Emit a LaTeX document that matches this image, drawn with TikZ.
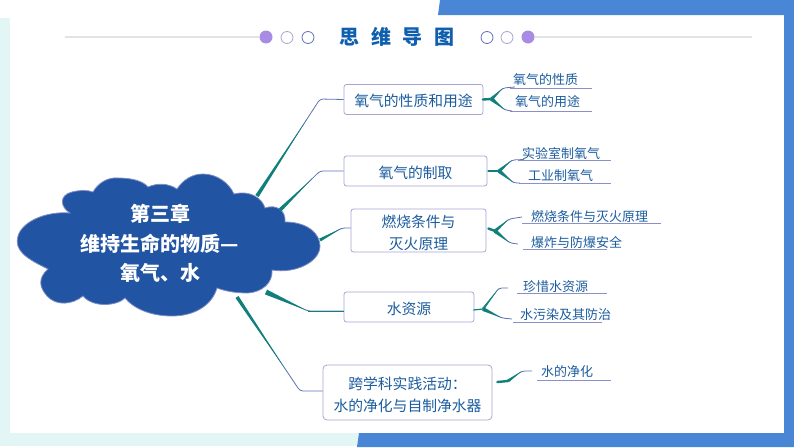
\documentclass[tikz,border=0pt]{standalone}
\usepackage{fontspec}
\setmainfont{Noto Sans CJK SC}
\usetikzlibrary{positioning}
\usetikzlibrary{calc}
\definecolor{cloudblue}{HTML}{2155A3}
\definecolor{frameblue}{HTML}{4A86D6}
\definecolor{framecyan}{HTML}{E2F6F5}
\definecolor{dotpurple}{HTML}{A88BE3}
\definecolor{inkblue}{HTML}{1B5C9E}
\definecolor{titleblue}{HTML}{0F5FAE}
\definecolor{rootteal}{HTML}{11807C}
\definecolor{twigslate}{HTML}{5F72B4}
\definecolor{boxedge}{HTML}{A9A5D2}
\newcommand{\taper}[3]{\fill[rootteal] ($(#1)!#3!90:(#2)$) -- ($(#1)!#3!-90:(#2)$) -- (#2) -- cycle;}
\tikzset{
    mainbox/.style={draw=boxedge, line width=0.8pt, rounded corners=2.5pt, fill=white, text=inkblue, align=center,
                    font=\fontsize{14.8}{22}\selectfont, inner sep=0pt, text height=16pt, text depth=2pt},
    twolines/.style={text height=40pt},
    leaf/.style={text=inkblue, font=\fontsize{13}{16}\selectfont, inner sep=0pt, yshift=-1pt},
    underline/.style={draw=boxedge!60!twigslate, line width=0.8pt},
    twig/.style={draw=twigslate, line width=0.8pt, rounded corners=3pt},
    stub/.style={draw=rootteal, line width=2.4pt, line cap=round},
    ring/.style={circle, fill=white, minimum size=12pt, inner sep=0pt, line width=0.8pt}
}
\begin{document}
\begin{tikzpicture}[x=1pt,y=-1pt]
    \useasboundingbox (0,0) rectangle (794,447);
    % frame
    \fill[framecyan] (0,18) rectangle (10,446);
    \fill[framecyan] (0,433) rectangle (794,446);
    \fill[frameblue] (438,15) -- (440,0) -- (794,0) -- (794,447) -- (357,447) -- (359,433) -- (784,433) -- (784,15) -- cycle;

    % header
    \coordinate (ruleL) at (65,37);
    \coordinate (ruleR) at (752,37);
    \node[circle, fill=dotpurple, minimum size=13pt, inner sep=0pt] (dotL) at (266,37) {};
    \node[circle, fill=dotpurple, minimum size=13pt, inner sep=0pt] (dotR) at (528,37) {};
    \node[ring, draw=boxedge] (ringL1) at (287,37.5) {};
    \node[ring, draw=twigslate] (ringL2) at (308,37.5) {};
    \node[ring, draw=twigslate] (ringR1) at (487,37.5) {};
    \node[ring, draw=boxedge] (ringR2) at (507,37.5) {};
    \draw[color=black!11, line width=1.3pt] (ruleL) -- (dotL);
    \draw[color=black!11, line width=1.3pt] (dotR) -- (ruleR);
    \node[text=titleblue, font=\fontsize{20}{24}\selectfont\bfseries] (title) at (397,37) {思\hspace{11.5pt}维\hspace{11.5pt}导\hspace{11.5pt}图};

    % cloud
    \draw[fill=cloudblue, draw=boxedge!70!cloudblue, line width=0.8pt]
        (48,269) .. controls (25,258) and (14,250) .. (18,236) .. controls (22,222) and (45,211) .. (70,213)
        .. controls (60,207) and (59,195) .. (72,192) .. controls (80,190) and (88,190) .. (93,192)
        .. controls (98,183) and (108,177) .. (118,178) .. controls (132,178) and (143,181) .. (148,187)
        .. controls (157,183) and (168,183) .. (177,189)
        .. controls (183,180) and (192,174) .. (203,174) .. controls (217,174) and (229,183) .. (234,194)
        .. controls (250,190) and (262,198) .. (265,208)
        .. controls (276,204) and (286,210) .. (285,222)
        .. controls (308,222) and (320,234) .. (320,246) .. controls (320,262) and (295,274) .. (272,270)
        .. controls (273,283) and (262,292) .. (248,293) .. controls (235,293) and (225,291) .. (217,288)
        .. controls (212,305) and (195,316) .. (172,316) .. controls (150,316) and (133,308) .. (125,298)
        .. controls (117,306) and (93,308) .. (83,296)
        .. controls (72,305) and (56,306) .. (47,296) .. controls (39,287) and (38,278) .. (48,269) -- cycle;
    \node[text=white, align=center, inner sep=0pt, font=\fontsize{20}{29.5}\selectfont\bfseries] (chapter) at (160,243.5) {第三章\\维持生命的物质—\\氧气、水};

    % boxes
    \node[mainbox, minimum width=139pt, minimum height=30pt] (boxprop) at (413.5,99.5) {氧气的性质和用途};
    \node[mainbox, minimum width=143pt, minimum height=30pt] (boxmake) at (415.5,171) {氧气的制取};
    \node[mainbox, twolines, minimum width=135pt, minimum height=43pt] (boxfire) at (418.5,230.5) {燃烧条件与\\灭火原理};
    \node[mainbox, minimum width=130pt, minimum height=30pt] (boxwater) at (409,307) {水资源};
    \node[mainbox, twolines, rounded corners=4pt, minimum width=169pt, minimum height=55pt] (boxclean) at (407.5,392.5) {跨学科实践活动：\\水的净化与自制净水器};

    % branches
    \coordinate (outprop) at (257,196);
    \coordinate (bendprop) at (320,99);
    \coordinate (outmake) at (280,210);
    \coordinate (bendmake) at (320,171);
    \coordinate (outfire) at (320,240);
    \coordinate (bendfire) at (342,228);
    \coordinate (outwater) at (266,292);
    \coordinate (bendwater) at (308,311);
    \coordinate (outclean) at (237,297);
    \coordinate (bendclean) at (300,391);
    \draw[twig] (outprop) -- (bendprop) -- (boxprop.west);
    \taper{outprop}{$(outprop)!.8!(bendprop)$}{1.9pt}
    \draw[twig] (outmake) -- (bendmake) -- (boxmake.west);
    \taper{outmake}{$(outmake)!.8!(bendmake)$}{1.9pt}
    \draw[twig] (outfire) -- (bendfire) -- (boxfire.west |- bendfire);
    \taper{outfire}{bendfire}{1.6pt}
    \draw[twig] (outwater) -- (bendwater) -- (boxwater.west |- bendwater);
    \taper{outwater}{bendwater}{2.6pt}
    \draw[draw=rootteal, line width=1pt] (bendwater) -- (boxwater.west |- bendwater);
    \draw[twig] (outclean) -- (bendclean) -- (boxclean.west |- bendclean);
    \taper{outclean}{$(outclean)!.8!(bendclean)$}{1.8pt}

    % leaves
    \node[leaf, anchor=west] (leafprop1) at (513,79) {氧气的性质};
    \node[leaf, anchor=west] (leafprop2) at (515,101) {氧气的用途};
    \node[leaf, anchor=west] (leafmake1) at (522,152) {实验室制氧气};
    \node[leaf, anchor=west] (leafmake2) at (528,175) {工业制氧气};
    \node[leaf, anchor=west] (leaffire1) at (531,216) {燃烧条件与灭火原理};
    \node[leaf, anchor=west] (leaffire2) at (531,242) {爆炸与防爆安全};
    \node[leaf, anchor=west] (leafwater1) at (523,286) {珍惜水资源};
    \node[leaf, anchor=west] (leafwater2) at (520,314) {水污染及其防治};
    \node[leaf, anchor=west] (leafclean) at (541,371) {水的净化};

    \draw[underline] (510,88) -- (592,88);
    \draw[underline] (510,111) -- (592,111);
    \draw[underline] (518,160) -- (611,160);
    \draw[underline] (519,183) -- (611,183);
    \draw[underline] (522,223) -- (661,223);
    \draw[underline] (523,249) -- (607,249);
    \draw[underline] (517,293) -- (607,293);
    \draw[underline] (513,322) -- (602,322);
    \draw[underline] (537,380) -- (611,380);

    % forks
    \coordinate (forkprop) at (491.5,99);
    \coordinate (forkmake) at (499,171);
    \coordinate (forkfire) at (495,231);
    \coordinate (forkwater) at (483,309);
    \coordinate (forkclean) at (508,381);
    \draw[stub] (boxprop.east) ++(-0.5,0) -- (forkprop);
    \draw[twig] (forkprop) -- (503,88) -- (515,87);
    \draw[twig] (forkprop) -- (505,110) -- (512,111);
    \taper{forkprop}{503,88}{1.7pt}
    \taper{forkprop}{505,110}{2pt}
    \draw[stub] (boxmake.east) ++(1,0) -- (forkmake);
    \draw[twig] (forkmake) -- (512,160) -- (524,159.5);
    \draw[twig] (forkmake) -- (514,183) -- (520,183);
    \taper{forkmake}{512,160}{1.7pt}
    \taper{forkmake}{514,183}{2pt}
    \draw[stub] (boxfire.east) ++(2,-2) -- (forkfire);
    \draw[twig] (forkfire) -- (509,219) -- (522,217);
    \draw[twig] (forkfire) -- (510,243) -- (518,244);
    \taper{forkfire}{509,219}{1.7pt}
    \taper{forkfire}{510,243}{2pt}
    \draw[draw=rootteal, line width=1.2pt] (boxwater.east) ++(-1,3) -- (forkwater);
    \draw[twig] (forkwater) -- (499,288) -- (508,288);
    \draw[twig] (forkwater) -- (502,318) -- (512,319);
    \taper{forkwater}{499,288}{1.2pt}
    \taper{forkwater}{502,318}{2pt}
    \draw[stub] (boxclean.east) ++(5,-10.5) -- (forkclean);
    \draw[twig] (forkclean) -- (522,371) -- (532,371);
    \taper{forkclean}{522,371}{1.5pt}
\end{tikzpicture}
\end{document}
